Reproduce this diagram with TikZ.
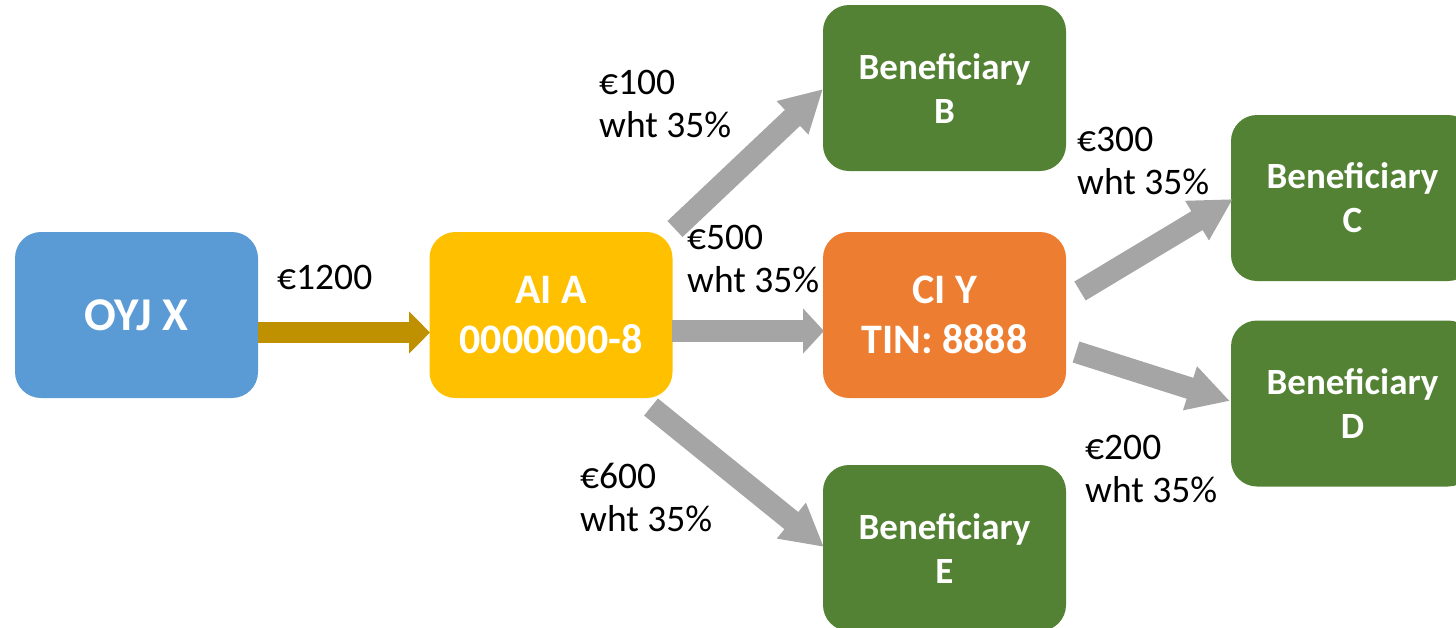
\documentclass[tikz,border=0pt]{standalone}
\usepackage{fontspec}
\setmainfont{Carlito}
\usetikzlibrary{arrows.meta}
\definecolor{cblue}{HTML}{5B9BD5}
\definecolor{cgold}{HTML}{FFC000}
\definecolor{corange}{HTML}{ED7D31}
\definecolor{cgreen}{HTML}{548235}
\definecolor{cgray}{HTML}{A5A5A5}
\definecolor{cdarkgold}{HTML}{BF9000}
\tikzset{
  box/.style={rounded corners=26pt, minimum width=243pt, minimum height=166pt,
    text=white, font=\bfseries\fontsize{37}{44}\selectfont, align=center, inner sep=0pt},
  bigtext/.style={font=\bfseries\fontsize{42}{50}\selectfont},
  flow/.style={line width=22pt, draw=cgray, -{Triangle[length=21pt,width=44pt]}},
  diagflow/.style={line width=22pt, draw=cgray, -{Triangle[length=42pt,width=43pt]}},
  goldflow/.style={line width=21pt, draw=cdarkgold, -{Triangle[length=21pt,width=41pt]}},
  lbl/.style={font=\fontsize{37.5}{43}\selectfont, align=left, inner sep=0pt, anchor=north west},
}
\begin{document}
\begin{tikzpicture}[x=1pt,y=-1pt]
\useasboundingbox (0,0) rectangle (1456,627);
\clip (0,0) rectangle (1456,627);

% boxes
\node[box, fill=cblue, font=\bfseries\fontsize{47}{56}\selectfont] (oyj) at (136.5,315) {OYJ X};
\node[box, fill=cgold, bigtext] (ai) at (551,315) {AI A\\0000000-8};
\node[box, fill=corange, bigtext] (ci) at (944.5,315) {CI Y\\TIN: 8888};
\node[box, fill=cgreen] (benb) at (944.5,88) {Beneficiary\\B};
\node[box, fill=cgreen] (bene) at (944.5,548) {Beneficiary\\E};
\node[box, fill=cgreen] (benc) at (1352.5,198) {Beneficiary\\C};
\node[box, fill=cgreen] (bend) at (1352.5,403.5) {Beneficiary\\D};

% arrow end points
\coordinate (g1) at (258,332.5);
\coordinate (g2) at (430,332.5);
\coordinate (ab1) at (675,229);
\coordinate (ab2) at (823,89);
\coordinate (ac1) at (672,331);
\coordinate (ac2) at (824,331);
\coordinate (ae1) at (651,407);
\coordinate (ae2) at (824,547);
\coordinate (cc1) at (1080,291);
\coordinate (cc2) at (1233,199);
\coordinate (cd1) at (1076,352);
\coordinate (cd2) at (1230,401);

% arrows
\draw[goldflow] (g1) -- (g2);
\draw[flow] (ac1) -- (ac2);
\draw[diagflow] (ab1) -- (ab2);
\draw[diagflow] (ae1) -- (ae2);
\draw[diagflow] (cc1) -- (cc2);
\draw[diagflow] (cd1) -- (cd2);

% labels
\node[lbl] (l1200) at (277,265) {€1200};
\node[lbl] (l100) at (599,70) {€100\\wht 35\%};
\node[lbl] (l500) at (687,225) {€500\\wht 35\%};
\node[lbl] (l300) at (1077,127) {€300\\wht 35\%};
\node[lbl] (l200) at (1085,435) {€200\\wht 35\%};
\node[lbl] (l600) at (580,463) {€600\\wht 35\%};
\end{tikzpicture}
\end{document}
